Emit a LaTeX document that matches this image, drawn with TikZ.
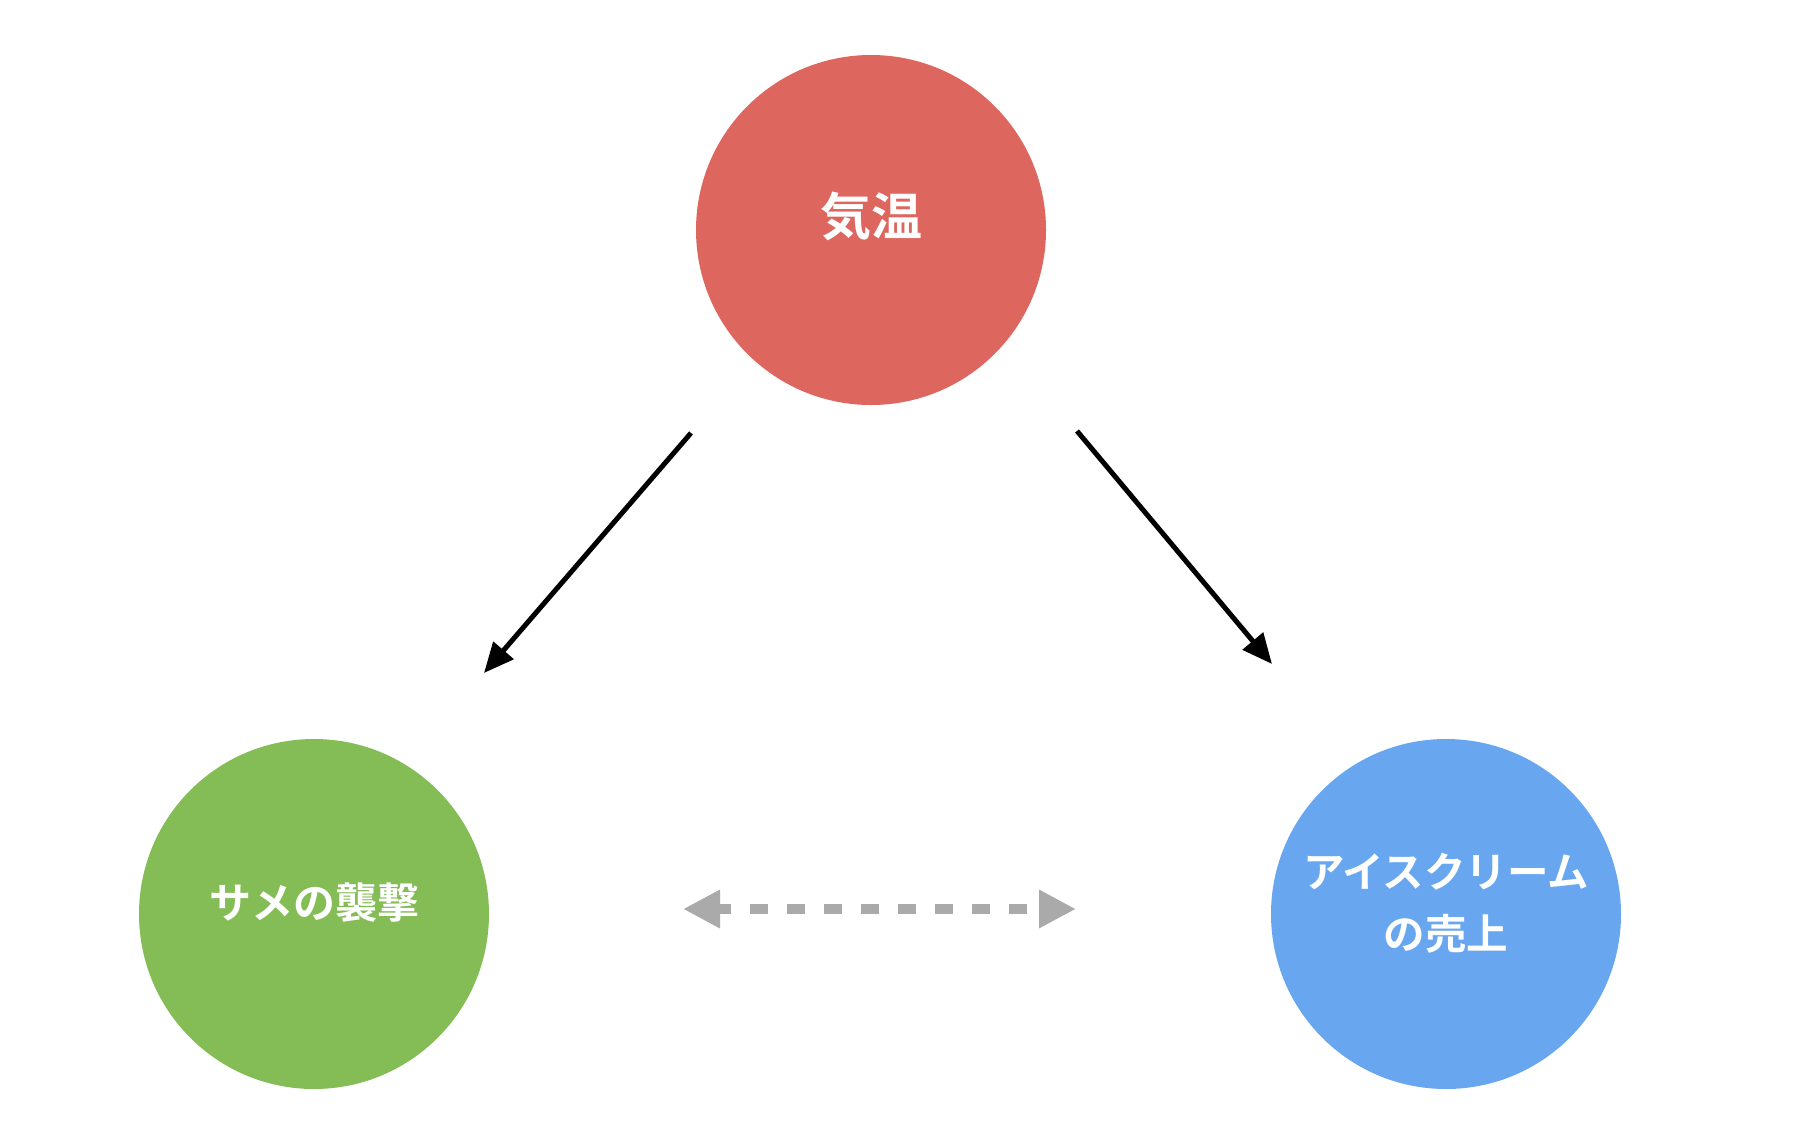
\documentclass[tikz,border=0pt]{standalone}
\usepackage{fontspec}
\newfontfamily\jp{Noto Sans CJK JP}[BoldFont={* Bold}]
\usetikzlibrary{arrows.meta}
\definecolor{cred}{HTML}{DD665E}
\definecolor{cgreen}{HTML}{84BC55}
\definecolor{cblue}{HTML}{68A7F0}
\definecolor{cgrey}{HTML}{AAAAAA}
\begin{document}
\begin{tikzpicture}[x=1pt,y=-1pt,
  bubble/.style={circle, minimum size=350pt, inner sep=0pt, draw=none, text=white, font=\jp\bfseries, align=center},
  causal/.style={line width=5pt, -{Triangle[length=30pt,width=26pt]}},
  corr/.style={cgrey, line width=10pt, dash pattern=on 18pt off 19pt, dash phase=5pt, {Triangle[length=37pt,width=36pt]}-{Triangle[length=37pt,width=36pt]}}]
\useasboundingbox (0,0) rectangle (1802,1138);
\node[bubble, fill=cred] (temp) at (871,230) {};
\node[bubble, fill=cgreen] (shark) at (314,914) {};
\node[bubble, fill=cblue] (ice) at (1446,914) {};
\node[text=white, font=\jp\bfseries\fontsize{51}{58}\selectfont] (templ) at (871,216) {気温};
\node[text=white, font=\jp\bfseries\fontsize{42}{48}\selectfont] (sharkl) at (314,903) {サメの襲撃};
\node[text=white, font=\jp\bfseries\fontsize{41.5}{62}\selectfont, align=center] (icel) at (1446,903) {アイスクリーム\\の売上};
\coordinate (a1s) at (691,433);
\coordinate (a1e) at (484,673);
\coordinate (a2s) at (1077,431);
\coordinate (a2e) at (1272,664);
\coordinate (d1) at (683,909);
\coordinate (d2) at (1076,909);
\draw[causal] (a1s) -- (a1e);
\draw[causal] (a2s) -- (a2e);
\draw[corr] (d1) -- (d2);
\end{tikzpicture}
\end{document}
